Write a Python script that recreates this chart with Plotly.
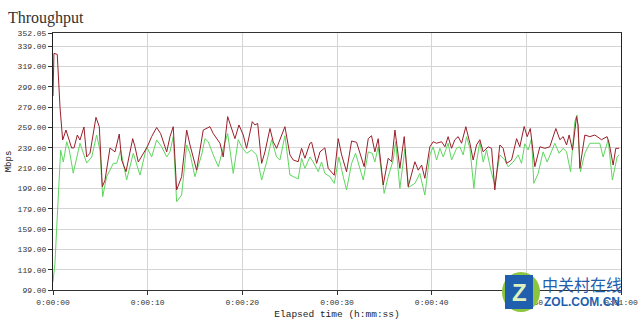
import plotly.graph_objects as go

# Elapsed time (seconds) and throughput (Mbps) for the two series
red_t = [0.0, 0.1, 0.45, 0.74, 1.02, 1.37, 1.97, 2.22, 2.57, 2.85, 3.27, 3.56, 3.91, 4.54, 4.89,
         5.21, 5.49, 6.02, 6.55, 7.00, 7.25, 7.71, 8.42, 8.66, 9.01, 9.54, 9.96, 10.42, 10.95,
         11.37, 12.01, 12.36, 12.70, 13.06, 13.59, 14.12, 14.47, 15.17, 15.87, 16.58, 16.93,
         17.64, 17.98, 18.45, 18.87, 19.22, 19.64, 20.10, 20.45, 21.05, 21.33, 21.62, 22.04,
         22.39, 22.92, 23.26, 23.62, 24.50, 25.03, 25.38, 25.90, 26.26, 26.61, 27.14, 27.32,
         27.85, 28.20, 28.72, 29.07, 29.71, 30.13, 30.49, 31.01, 31.54, 32.07, 32.87, 33.30,
         33.65, 34.00, 34.35, 34.88, 35.41, 35.77, 36.12, 36.64, 37.10, 37.52, 38.23, 38.58,
         38.94, 39.28, 39.81, 40.16, 40.52, 41.05, 41.40, 41.74, 42.10, 42.45, 42.80, 43.16,
         43.61, 44.04, 44.38, 44.74, 45.09, 45.44, 45.97, 46.33, 46.67, 47.20, 47.55, 47.91,
         48.44, 48.97, 49.31, 49.77, 50.09, 50.42, 50.90, 51.43, 51.96, 52.48, 53.12, 53.54,
         53.89, 54.25, 54.52, 54.88, 55.30, 55.47, 55.65, 56.18, 56.71, 57.24, 57.94, 58.53,
         58.75, 59.17, 59.45, 59.80]
red_v = [290, 332, 331, 279, 246.7, 256.5, 238.8, 239, 251.6, 246.7, 259.5, 230, 233.7, 269, 259.8,
         200.7, 207, 238.8, 235, 252.6, 227, 215.5, 248, 240, 225, 233.6, 240, 250, 259,
         253, 235, 250, 259.8, 197.5, 210.6, 256.5, 241.8, 217, 256.5, 259.8, 253,
         243.5, 230, 269.7, 256.5, 248, 261.5, 251.6, 238.5, 264.8, 261.5, 263, 223.7,
         235, 258, 245, 238.5, 259.8, 232, 227, 225.3, 238.5, 228.7, 243.5, 244.4,
         223.7, 235, 239, 218.8, 212, 248, 232, 215.5, 245.7, 244.4, 220.4, 248,
         250.9, 235, 248, 202.4, 228.7, 225.3, 256.5, 218.8, 250, 200.7, 225.3, 217,
         222, 209, 240, 245, 243.5, 245, 240, 250, 238.5, 247, 250, 243.5,
         259.8, 243.5, 227, 241.8, 247, 235, 240, 238.5, 197.5, 241.8, 238.5, 223.7,
         227, 248, 240, 260, 250, 258, 220.4, 240, 238.5, 240, 258, 247,
         250, 241.8, 251.6, 236.8, 269.7, 261.5, 218.8, 251.6, 250, 251.6, 247, 250,
         243.5, 222, 238.5, 238.5]

green_t = [0.0, 0.21, 0.39, 0.56, 0.81, 1.09, 1.45, 1.72, 2.14, 2.85, 3.56, 4.09, 4.61, 4.96,
           5.25, 5.67, 6.37, 6.73, 7.15, 7.78, 8.48, 9.19, 9.89, 10.42, 10.95, 11.48, 12.01,
           12.36, 12.70, 13.06, 13.59, 14.12, 14.47, 14.99, 15.70, 16.05, 16.40, 16.93, 17.46,
           17.98, 18.45, 19.04, 19.57, 19.93, 20.45, 20.98, 21.51, 22.04, 22.57, 23.09, 23.62,
           23.97, 24.50, 25.03, 25.38, 25.90, 26.26, 26.61, 27.14, 27.49, 28.02, 28.37, 28.72,
           29.25, 29.71, 30.20, 30.66, 31.01, 31.54, 31.96, 32.77, 33.30, 33.72, 34.00, 34.35,
           34.98, 35.41, 35.94, 36.19, 36.64, 37.17, 37.56, 38.23, 38.75, 39.28, 39.81, 40.16,
           40.52, 40.87, 41.22, 41.74, 42.10, 42.63, 42.98, 43.33, 43.69, 44.04, 44.46, 44.74,
           45.09, 45.44, 45.80, 46.25, 46.67, 47.20, 47.73, 48.08, 48.61, 49.14, 49.49, 49.84,
           50.19, 50.55, 50.79, 51.25, 51.77, 52.20, 53.01, 53.46, 53.89, 54.25, 54.67, 55.12,
           55.36, 55.72, 56.18, 56.71, 57.76, 58.11, 58.64, 59.09, 59.59, 59.80]
green_v = [107, 125.6, 160, 190.9, 236.8, 225, 245, 236.8, 214, 243.5, 224, 230, 251.6, 236.8,
           190.9, 210.6, 223.7, 223.7, 236.8, 207.3, 233.6, 212.2, 240, 230, 246.7, 240, 230,
           235, 250, 186, 192.5, 241.8, 233.6, 210.6, 232, 248, 245, 232, 220.4,
           238.5, 253, 213.8, 247, 240, 233.6, 236.8, 232, 207.3, 225, 247, 230,
           227, 251, 212.2, 210.6, 208.3, 228.7, 218.8, 230, 225, 215.5, 225, 213.8,
           210.6, 204, 230, 210.6, 197.5, 223.7, 233.6, 207.3, 235, 233.6, 225, 240,
           194.2, 210.6, 227, 245, 199, 238, 200, 204, 213.8, 192.5, 232, 240,
           227, 238.5, 230, 243.5, 227, 238.5, 240, 232, 250, 238.5, 199, 225,
           245, 225, 236.8, 217, 202.4, 232, 227, 220.4, 225, 232, 223.7, 243,
           236.8, 248, 204, 213.8, 235, 225, 243.5, 233.6, 238.5, 235, 215.5, 264.8,
           271.3, 215.5, 233.6, 243.5, 243.5, 230, 247, 207.3, 230, 232]

y_ticks = [99.00, 119.00, 139.00, 159.00, 179.00, 199.00, 219.00, 239.00, 259.00,
           279.00, 299.00, 319.00, 339.00, 352.05]
x_ticks = [0, 10, 20, 30, 40, 50, 60]
x_tick_labels = ["0:00:00", "0:00:10", "0:00:20", "0:00:30", "0:00:40", "0:00:50", "0:01:00"]

mono = "Liberation Mono"

fig = go.Figure()
fig.add_trace(go.Scatter(x=green_t, y=green_v, mode="lines",
                         line=dict(color="#5fd65f", width=1), showlegend=False))
fig.add_trace(go.Scatter(x=red_t, y=red_v, mode="lines",
                         line=dict(color="#9a1f2a", width=1), showlegend=False))

fig.update_layout(
    width=640, height=321,
    margin=dict(l=53, r=19, t=33, b=31, autoexpand=False),
    paper_bgcolor="white", plot_bgcolor="white",
    title=dict(text="Throughput", xref="container", yref="container",
               x=8 / 640, xanchor="left", y=1 - 17 / 321, yanchor="middle",
               font=dict(family="Liberation Serif", size=16, color="#333333")),
    font=dict(family=mono, size=8, color="#333333"),
)
fig.update_xaxes(
    range=[0, 60], tickvals=x_ticks, ticktext=x_tick_labels, automargin=False,
    showgrid=True, gridcolor="#d4d4d4", gridwidth=1,
    showline=True, linecolor="#333333", linewidth=1, mirror=True,
    ticks="outside", ticklen=4, tickcolor="#333333",
    zeroline=False,
    title=dict(text="Elapsed time (h:mm:ss)", standoff=4,
               font=dict(family=mono, size=9.5, color="#222222")),
)
fig.update_yaxes(
    range=[99, 352.05], tickvals=y_ticks, ticktext=[f"{v:.2f}" for v in y_ticks],
    automargin=False,
    showgrid=True, gridcolor="#d4d4d4", gridwidth=1,
    showline=True, linecolor="#222222", linewidth=1, mirror=True,
    ticks="outside", ticklen=4, tickcolor="#333333",
    zeroline=False,
    title=dict(text="Mbps", standoff=4,
               font=dict(family=mono, size=9, color="#222222")),
)

# watermark logo
fig.add_shape(type="circle", xref="paper", yref="paper",
              x0=(502 - 53) / 568, x1=(540 - 53) / 568,
              y0=(290 - 312) / 257, y1=(290 - 272) / 257,
              fillcolor="#8cc63f", line=dict(width=0), layer="above")
fig.add_shape(type="rect", xref="paper", yref="paper",
              x0=(505 - 53) / 568, x1=(533 - 53) / 568,
              y0=(290 - 309) / 257, y1=(290 - 275) / 257,
              fillcolor="#1f5fae", line=dict(width=0), layer="above")
fig.add_annotation(text="<b>Z</b>", xref="paper", yref="paper",
                   x=(519 - 53) / 568, y=(290 - 292) / 257, showarrow=False,
                   xanchor="center", yanchor="middle",
                   font=dict(family="Liberation Sans", size=24, color="#dff0c0"))
fig.add_annotation(text="中关村在线", xref="paper", yref="paper",
                   x=(582 - 53) / 568, y=(290 - 284) / 257, showarrow=False,
                   xanchor="center", yanchor="middle",
                   font=dict(family="Noto Sans CJK SC", size=16, color="#1f5fae"))
fig.add_annotation(text="<b>ZOL.COM.CN</b>", xref="paper", yref="paper",
                   x=(582 - 53) / 568, y=(290 - 302) / 257, showarrow=False,
                   xanchor="center", yanchor="middle",
                   font=dict(family="Liberation Sans", size=12, color="#1f5fae"))

fig.write_html("out.html", config={"displayModeBar": False},
               post_script="document.body.style.margin='0';")
